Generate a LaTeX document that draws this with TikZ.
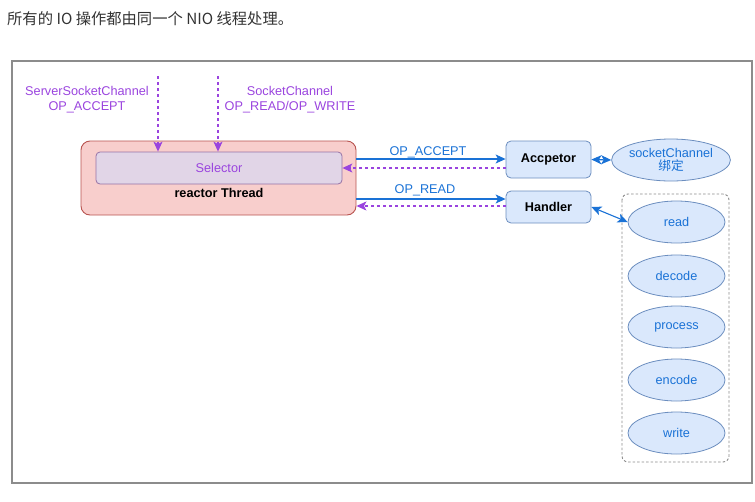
\documentclass[tikz,border=0pt]{standalone}
\usepackage{fontspec}
\setmainfont{Liberation Sans}
\newfontfamily\cjk{Noto Sans CJK SC}
\usetikzlibrary{arrows.meta,shapes.geometric}
\definecolor{redfill}{HTML}{F8CECC}
\definecolor{redline}{HTML}{B85450}
\definecolor{purfill}{HTML}{E1D5E7}
\definecolor{purline}{HTML}{9673A6}
\definecolor{purtext}{HTML}{9A44DE}
\definecolor{bluefill}{HTML}{DAE8FC}
\definecolor{blueline}{HTML}{6C8EBF}
\definecolor{bluetext}{HTML}{1A72D6}
\definecolor{framegray}{HTML}{8C8C8C}
\definecolor{headtext}{HTML}{333333}
\tikzset{
  tipb/.tip={Stealth[length=10pt,width=9pt,inset=2.5pt]},
  lbl/.style={font=\fontsize{12.7}{14.5}\selectfont, align=center, inner sep=0pt},
  boxblue/.style={draw=blueline, fill=bluefill, rounded corners=5pt, line width=0.8pt,
    minimum width=85pt, font=\fontsize{12.7}{14.5}\selectfont\bfseries, inner sep=0pt},
  ellblue/.style={ellipse, draw=blueline, fill=bluefill, line width=0.8pt, inner sep=0pt,
    minimum width=97pt, minimum height=42pt, text=bluetext, font=\fontsize{12.7}{14.5}\selectfont, align=center},
  bluearr/.style={color=bluetext, line width=1.1pt, -tipb},
  bluedbl/.style={color=bluetext, line width=1.1pt, tipb-tipb},
  purarr/.style={color=purtext, line width=1.1pt, dash pattern=on 3pt off 3pt, -tipb},
}
\begin{document}
\begin{tikzpicture}[x=1pt,y=-1pt]
\useasboundingbox (0,0) rectangle (755,501);
\node[anchor=west, inner sep=0pt, text=headtext, font=\cjk\fontsize{15.3}{17}\selectfont] (head) at (7,19) {所有的 IO 操作都由同一个 NIO 线程处理。};
\draw[framegray, line width=2.2pt] (12,61) rectangle (752,483);

% reactor
\node[draw=redline, fill=redfill, rounded corners=9pt, line width=0.9pt, minimum width=275pt, minimum height=74pt] (reactor) at (218.5,178) {};
\node[draw=purline, fill=purfill, rounded corners=4pt, line width=0.8pt, minimum width=246pt, minimum height=32pt, text=purtext, font=\fontsize{12.7}{14.5}\selectfont] (sel) at (219,168) {Selector};
\node[lbl, font=\fontsize{12.7}{14.5}\selectfont\bfseries] (rt) at (219,193) {reactor Thread};

% top labels
\node[lbl, text=purtext] (lab1) at (87,99.5) {ServerSocketChannel\\OP\_ACCEPT};
\node[lbl, text=purtext] (lab2) at (290,99.5) {SocketChannel\\OP\_READ/OP\_WRITE};
\coordinate (s1) at (158,76);
\coordinate (s2) at (218,76);
\draw[purarr] (s1) -- (s1 |- sel.north);
\draw[purarr] (s2) -- (s2 |- sel.north);

% right side boxes
\node[boxblue, minimum height=37pt] (acc) at (548.5,159.5) {Accpetor};
\node[boxblue, minimum height=32pt] (hand) at (548.5,207) {Handler};
\node[ellblue, minimum width=96pt] (sock) at (671,160) {socketChannel\\[-2pt]{\cjk 绑定}};

% container
\draw[framegray, line width=0.9pt, dash pattern=on 2.5pt off 2pt, rounded corners=6pt] (622,194) rectangle (729,462);
\node[ellblue] (read) at (676.5,222) {read};
\node[ellblue] (decode) at (676.5,276) {decode};
\node[ellblue] (process) at (676.5,327) {process};
\node[ellblue] (encode) at (676.5,380) {encode};
\node[ellblue] (write) at (676.5,433) {write};

% connectors
\coordinate (a1) at ([yshift=0.5pt]acc.west);
\draw[bluearr] (a1 -| reactor.east) -- (a1);
\node[lbl, text=bluetext] (opacc) at (428,152) {OP\_ACCEPT};
\coordinate (a2) at ([yshift=-8.5pt]acc.west);
\draw[purarr] (a2) -- (a2 -| sel.east);

\coordinate (h1) at ([yshift=8pt]hand.west);
\draw[bluearr] (h1 -| reactor.east) -- (h1);
\node[lbl, text=bluetext] (opread) at (425,190) {OP\_READ};
\coordinate (h2) at ([yshift=1pt]hand.west);
\draw[purarr] (h2) -- (h2 -| reactor.east);

\draw[bluedbl] (acc.east) -- (sock.west);
\draw[bluedbl] (hand.east) -- (read.west);
\end{tikzpicture}
\end{document}
